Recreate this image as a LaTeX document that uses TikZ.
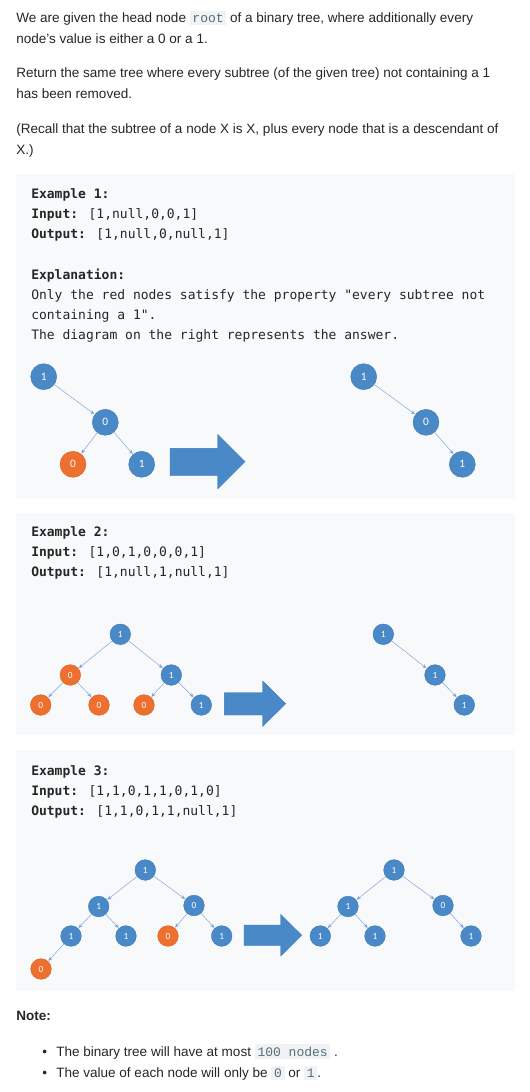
\documentclass[tikz,border=0pt]{standalone}
\usepackage{fontspec}
\setmainfont{Liberation Sans}
\newfontfamily\blockfont{DejaVu Sans Mono}
\newfontfamily\inlinefont{Liberation Mono}
\newfontfamily\digitfont{Carlito}
\usetikzlibrary{arrows.meta}
\tikzset{>={Stealth[length=3.2pt,width=2.6pt]}}
\definecolor{inkColor}{HTML}{262626}
\definecolor{boxColor}{HTML}{F7F9FA}
\definecolor{codeBg}{HTML}{F0F2F4}
\definecolor{codeInk}{HTML}{546E7A}
\definecolor{nodeBlue}{HTML}{4A89C8}
\definecolor{nodeRim}{HTML}{3F79B3}
\definecolor{nodeOrange}{HTML}{ED7031}
\definecolor{orangeRim}{HTML}{D8641F}
\definecolor{edgeBlue}{HTML}{7FA3DA}
\newcommand{\inl}[1]{{\setlength{\fboxsep}{2pt}\colorbox{codeBg}{\inlinefont\fontsize{9.75}{10}\selectfont\color{codeInk}#1}}}
\tikzset{
  para/.style={anchor=base west,inner sep=0pt,text=inkColor,font=\fontsize{10.15}{15}\selectfont},
  blk/.style={anchor=base west,inner sep=0pt,text=inkColor,font=\blockfont\fontsize{9.75}{15}\selectfont},
  exbox/.style={fill=boxColor,rounded corners=2pt},
  one/.style={circle,fill=nodeBlue,draw=nodeRim,line width=0.3pt,text=white,inner sep=0pt},
  zero/.style={one,fill=nodeOrange,draw=orangeRim},
  bignode/.style={minimum size=19.5pt,font=\digitfont\fontsize{8.5}{8.5}\selectfont},
  smallnode/.style={minimum size=15.5pt,font=\digitfont\fontsize{7}{7}\selectfont},
  edge/.style={->,draw=edgeBlue,line width=0.35pt,shorten >=0.3pt},
  blockarrow/.style={fill=nodeBlue,draw=nodeRim,line width=0.3pt},
}
\begin{document}
\begin{tikzpicture}[x=0.75pt,y=-0.75pt]
\fill[white] (0,0) rectangle (529,1092);
\useasboundingbox (0,0) rectangle (529,1092);
% statement
\node[para] (t1) at (16,22) {We are given the head node \inl{root} of a binary tree, where additionally every};
\node[para] (t2) at (16,43) {node{\char"0027}s value is either a 0 or a 1.};
\node[para] (t3) at (16,77.5) {Return the same tree where every subtree (of the given tree) not containing a 1};
\node[para] (t4) at (16,98.5) {has been removed.};
\node[para] (t5) at (16,133) {(Recall that the subtree of a node X is X, plus every node that is a descendant of};
\node[para] (t6) at (16,154) {X.)};
% example 1
\fill[exbox] (16,174) rectangle (515,499);
\node[blk] (e1a) at (31,198.5) {\textbf{Example 1:}};
\node[blk] (e1b) at (31,218.7) {\textbf{Input:} [1,null,0,0,1]};
\node[blk] (e1c) at (31,238.9) {\textbf{Output:} [1,null,0,null,1]};
\node[blk] (e1d) at (31,279.3) {\textbf{Explanation:}};
\node[blk] (e1e) at (31,299.5) {Only the red nodes satisfy the property "every subtree not};
\node[blk] (e1f) at (31,319.7) {containing a 1".};
\node[blk] (e1g) at (31,339.9) {The diagram on the right represents the answer.};
\node[one,bignode] (i1a) at (43.7,376.7) {1};
\node[one,bignode] (i1b) at (105.3,422.3) {0};
\node[zero,bignode] (i1c) at (73,464.3) {0};
\node[one,bignode] (i1d) at (141.7,464.3) {1};
\draw[edge] (i1a) -- (i1b);
\draw[edge] (i1b) -- (i1c);
\draw[edge] (i1b) -- (i1d);
\draw[blockarrow] (170,448.3) -- (217.7,448.3) -- (217.7,434.3) -- (245,461.7) -- (217.7,489) -- (217.7,475.5) -- (170,475.5) -- cycle;
\node[one,bignode] (o1a) at (363.7,376.7) {1};
\node[one,bignode] (o1b) at (426,422.3) {0};
\node[one,bignode] (o1d) at (462.3,464.3) {1};
\draw[edge] (o1a) -- (o1b);
\draw[edge] (o1b) -- (o1d);
% example 2
\fill[exbox] (16,513) rectangle (515,735);
\node[blk] (e2a) at (31,536) {\textbf{Example 2:}};
\node[blk] (e2b) at (31,556.2) {\textbf{Input:} [1,0,1,0,0,0,1]};
\node[blk] (e2c) at (31,576.4) {\textbf{Output:} [1,null,1,null,1]};
\node[one,smallnode] (i2a) at (120.3,634.3) {1};
\node[zero,smallnode] (i2b) at (70.3,675) {0};
\node[one,smallnode] (i2c) at (171.3,675) {1};
\node[zero,smallnode] (i2d) at (40.7,705) {0};
\node[zero,smallnode] (i2e) at (99,705) {0};
\node[zero,smallnode] (i2f) at (144,705) {0};
\node[one,smallnode] (i2g) at (201.3,705) {1};
\draw[edge] (i2a) -- (i2b);
\draw[edge] (i2a) -- (i2c);
\draw[edge] (i2b) -- (i2d);
\draw[edge] (i2b) -- (i2e);
\draw[edge] (i2c) -- (i2f);
\draw[edge] (i2c) -- (i2g);
\draw[blockarrow] (224.3,692.7) -- (262.7,692.7) -- (262.7,681) -- (285.7,703.7) -- (262.7,726.3) -- (262.7,715) -- (224.3,715) -- cycle;
\node[one,smallnode] (o2a) at (383.3,634.3) {1};
\node[one,smallnode] (o2c) at (435,675) {1};
\node[one,smallnode] (o2g) at (464.3,705) {1};
\draw[edge] (o2a) -- (o2c);
\draw[edge] (o2c) -- (o2g);
% example 3
\fill[exbox] (16,750) rectangle (515,991);
\node[blk] (e3a) at (31,775) {\textbf{Example 3:}};
\node[blk] (e3b) at (31,795.2) {\textbf{Input:} [1,1,0,1,1,0,1,0]};
\node[blk] (e3c) at (31,815.4) {\textbf{Output:} [1,1,0,1,1,null,1]};
\node[one,smallnode] (i3a) at (145.3,870) {1};
\node[one,smallnode] (i3b) at (98.7,906.5) {1};
\node[one,smallnode] (i3c) at (194,905.5) {0};
\node[one,smallnode] (i3d) at (71,936) {1};
\node[one,smallnode] (i3e) at (126,936) {1};
\node[zero,smallnode] (i3f) at (168,936) {0};
\node[one,smallnode] (i3g) at (221.7,936) {1};
\node[zero,smallnode] (i3h) at (41,969) {0};
\draw[edge] (i3a) -- (i3b);
\draw[edge] (i3a) -- (i3c);
\draw[edge] (i3b) -- (i3d);
\draw[edge] (i3b) -- (i3e);
\draw[edge] (i3c) -- (i3f);
\draw[edge] (i3c) -- (i3g);
\draw[edge] (i3d) -- (i3h);
\draw[blockarrow] (244,925) -- (280.7,925) -- (280.7,914.3) -- (301.7,935.2) -- (280.7,956) -- (280.7,945.7) -- (244,945.7) -- cycle;
\node[one,smallnode] (o3a) at (394,870) {1};
\node[one,smallnode] (o3b) at (348,906.5) {1};
\node[one,smallnode] (o3c) at (443,905.5) {0};
\node[one,smallnode] (o3d) at (320.3,936) {1};
\node[one,smallnode] (o3e) at (375,936) {1};
\node[one,smallnode] (o3g) at (471,936) {1};
\draw[edge] (o3a) -- (o3b);
\draw[edge] (o3a) -- (o3c);
\draw[edge] (o3b) -- (o3d);
\draw[edge] (o3b) -- (o3e);
\draw[edge] (o3c) -- (o3g);
% note
\node[para,font=\bfseries\fontsize{10.15}{12}\selectfont] (n0) at (16,1020) {Note:};
\node[para] (b1) at (42,1056) {•};
\node[para] (n1) at (56,1056) {The binary tree will have at most \inl{100 nodes} .};
\node[para] (b2) at (42,1077) {•};
\node[para] (n2) at (56,1077) {The value of each node will only be \inl{0} or \inl{1}.};
\end{tikzpicture}
\end{document}
